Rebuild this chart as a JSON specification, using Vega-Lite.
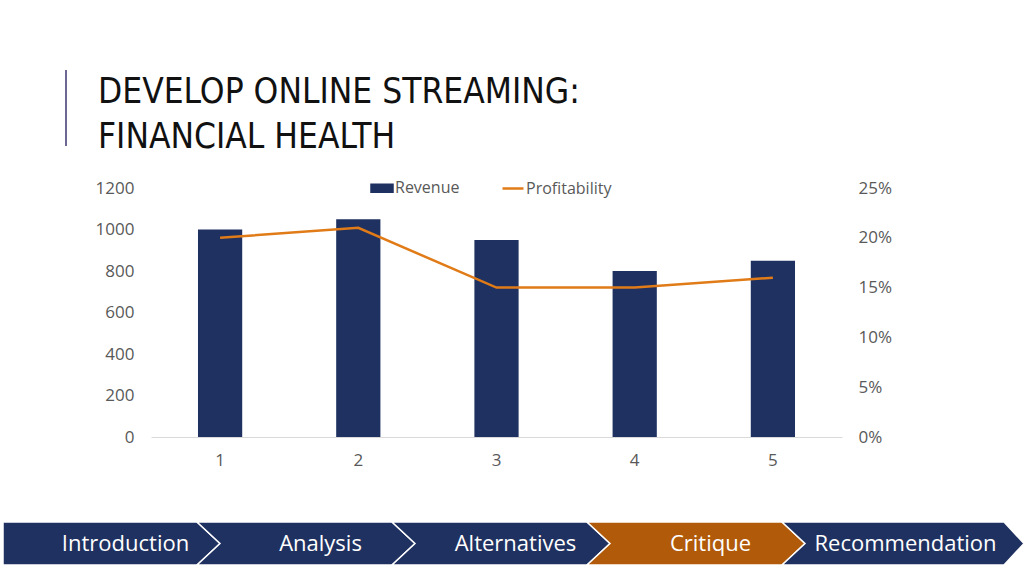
{
  "$schema": "https://vega.github.io/schema/vega-lite/v6.json",
  "padding": {"left": 0, "top": 69, "right": 0, "bottom": 0},
  "background": "white",
  "config": {
    "view": {"stroke": null},
    "font": "Open Sans",
    "axis": {"labelFont": "Open Sans", "labelFontSize": 17, "labelColor": "#595959", "ticks": false, "grid": false, "title": null}
  },
  "spacing": 23,
  "vconcat": [
    {
      "width": 64,
      "height": 76,
      "data": {"values": []},
      "mark": "point",
      "view": {"stroke": "#6B6893", "strokeWidth": 2, "strokeDash": [0, 64, 76, 140]},
      "title": {
        "text": ["DEVELOP ONLINE STREAMING:", "FINANCIAL HEALTH"],
        "anchor": "start",
        "frame": "group",
        "orient": "top",
        "dx": 96,
        "baseline": "top",
        "offset": -85,
        "font": "DejaVu Sans Condensed, Liberation Sans Narrow, Liberation Sans, sans-serif",
        "fontSize": 35,
        "fontWeight": "normal",
        "color": "#111111",
        "lineHeight": 45
      }
    },
    {
      "spacing": 0,
      "hconcat": [
        {"width": 93, "height": 308, "data": {"values": []}, "mark": "point"},
        {
          "width": 691,
          "height": 249,
          "data": {"values": [
            {"period": 1, "Revenue": 1000, "Profitability": 0.20},
            {"period": 2, "Revenue": 1050, "Profitability": 0.21},
            {"period": 3, "Revenue": 950, "Profitability": 0.15},
            {"period": 4, "Revenue": 800, "Profitability": 0.15},
            {"period": 5, "Revenue": 850, "Profitability": 0.16}
          ]},
          "encoding": {
            "x": {"field": "period", "type": "ordinal",
              "scale": {"paddingInner": 0.68, "paddingOuter": 0.34},
              "axis": {"labelAngle": 0, "domain": true, "domainColor": "#D9D9D9", "domainWidth": 1, "labelPadding": 15}}
          },
          "layer": [
            {
              "mark": {"type": "bar"},
              "encoding": {
                "y": {"field": "Revenue", "type": "quantitative",
                  "scale": {"domain": [0, 1200], "nice": false},
                  "axis": {"orient": "left", "values": [0, 200, 400, 600, 800, 1000, 1200], "domain": false, "labelPadding": 17, "format": "d"}},
                "color": {"datum": "Revenue", "type": "nominal",
                  "scale": {"domain": ["Revenue", "Profitability"], "range": ["#1E3160", "#E07B17"]},
                  "legend": {
                    "orient": "none", "legendX": 368, "legendY": 106, "direction": "horizontal",
                    "title": null, "symbolSize": 441, "labelFontSize": 16, "labelColor": "#595959",
                    "labelFont": "Open Sans", "columnPadding": 37, "labelOffset": 1, "padding": 0,
                    "encode": {"symbols": {"update": {
                      "shape": {"signal": "datum.value === 'Revenue' ? 'M-1,-0.33H1V0.33H-1Z' : 'M-1,0H1'"},
                      "fill": {"signal": "datum.value === 'Revenue' ? '#1E3160' : 'transparent'"},
                      "stroke": {"signal": "datum.value === 'Revenue' ? 'transparent' : '#E07B17'"},
                      "strokeWidth": {"value": 2.5},
                      "opacity": {"value": 1}
                    }}}
                  }}
              }
            },
            {
              "mark": {"type": "line", "strokeWidth": 2.5},
              "encoding": {
                "y": {"field": "Profitability", "type": "quantitative",
                  "scale": {"domain": [0, 0.25], "nice": false},
                  "axis": {"orient": "right", "values": [0, 0.05, 0.1, 0.15, 0.2, 0.25], "format": ".0%", "domain": false, "labelPadding": 16}},
                "color": {"datum": "Profitability", "type": "nominal"}
              }
            }
          ],
          "resolve": {"scale": {"y": "independent"}}
        }
      ]
    },
    {
      "width": 975,
      "height": 43,
      "data": {"values": [
        {"step": 1, "label": "Introduction"},
        {"step": 2, "label": "Analysis"},
        {"step": 3, "label": "Alternatives"},
        {"step": 4, "label": "Critique"},
        {"step": 5, "label": "Recommendation"}
      ]},
      "encoding": {
        "x": {"field": "step", "type": "ordinal", "scale": {"type": "band", "paddingInner": 0, "paddingOuter": 0}, "axis": null}
      },
      "layer": [
        {
          "mark": {"type": "point", "filled": true, "size": 40000, "stroke": "white", "strokeWidth": 1.5, "opacity": 1},
          "encoding": {
            "shape": {
              "condition": [
                {"test": "datum.step === 1", "value": "M-0.965,-0.215L0.975,-0.215L1.205,0L0.975,0.215L-0.965,0.215Z"},
                {"test": "datum.step === 5", "value": "M-0.975,-0.215L1.245,-0.215L1.445,0L1.245,0.215L-0.975,0.215L-0.745,0Z"}
              ],
              "value": "M-0.975,-0.215L0.975,-0.215L1.205,0L0.975,0.215L-0.975,0.215L-0.745,0Z"
            },
            "color": {"condition": {"test": "datum.label === 'Critique'", "value": "#B05A0A"}, "value": "#1F3160"}
          }
        },
        {
          "mark": {"type": "text", "color": "white", "fontSize": 22, "dx": 26, "baseline": "middle", "font": "Open Sans"},
          "encoding": {"text": {"field": "label"}}
        }
      ]
    }
  ]
}
